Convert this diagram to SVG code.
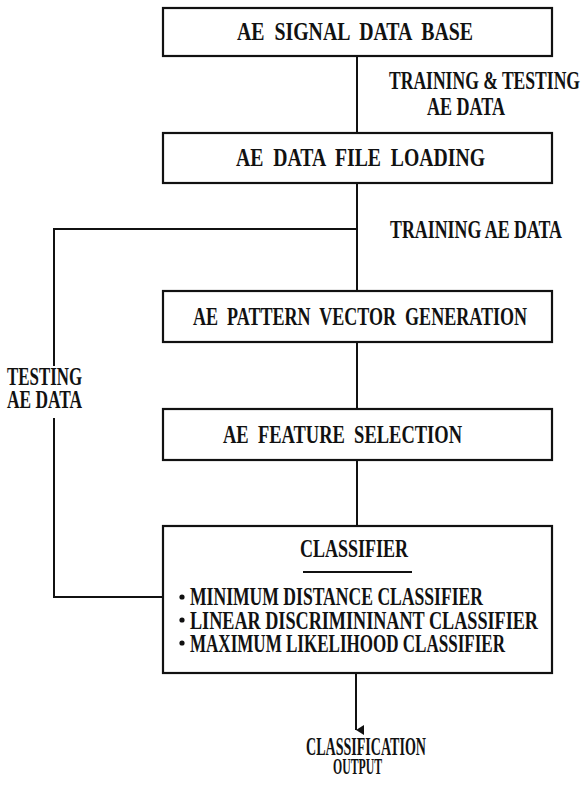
<svg xmlns="http://www.w3.org/2000/svg" width="583" height="785" viewBox="0 0 583 785">
<style>
.box{fill:#fff;stroke:#111;stroke-width:2.2}
.ln{fill:none;stroke:#111;stroke-width:2}
text{font-family:"Liberation Serif","Times New Roman",serif;font-weight:bold;font-size:26px;fill:#111}
.sm{font-size:24px}
</style>
<defs>
<marker id="arr" markerUnits="userSpaceOnUse" markerWidth="12" markerHeight="12" refX="6" refY="10" orient="auto-start-reverse" viewBox="0 0 12 12">
<path d="M1,2 L11,2 L6,10 Z" fill="#111"/>
</marker>
</defs>
<rect width="583" height="785" fill="#fff"/>
<g id="connectors">
<line class="ln" x1="357" y1="56" x2="357" y2="133"/>
<line class="ln" x1="357" y1="183" x2="357" y2="291"/>
<line class="ln" x1="357" y1="342" x2="357" y2="409"/>
<line class="ln" x1="357" y1="460" x2="357" y2="527"/>
<path class="ln" d="M357,229 H54 V366"/>
<path class="ln" d="M54,418 V597 H163"/>
<line class="ln" x1="356" y1="673" x2="356" y2="730" marker-end="url(#arr)"/>
</g>
<g id="label-train-test">
<text x="389" y="89" textLength="191" lengthAdjust="spacingAndGlyphs">TRAINING &amp; TESTING</text>
<text x="427" y="115" textLength="78" lengthAdjust="spacingAndGlyphs">AE DATA</text>
</g>
<g id="label-training">
<text x="390" y="238" textLength="172" lengthAdjust="spacingAndGlyphs">TRAINING AE DATA</text>
</g>
<g id="label-testing">
<text x="7" y="385" textLength="75" lengthAdjust="spacingAndGlyphs">TESTING</text>
<text x="7" y="408" textLength="75" lengthAdjust="spacingAndGlyphs">AE DATA</text>
</g>
<g id="n1">
<rect class="box" x="163" y="8" width="389" height="48"/>
<text x="237" y="40" textLength="236" lengthAdjust="spacingAndGlyphs" xml:space="preserve">AE  SIGNAL  DATA  BASE</text>
</g>
<g id="n2">
<rect class="box" x="163" y="133" width="389" height="50"/>
<text x="236" y="166" textLength="249" lengthAdjust="spacingAndGlyphs" xml:space="preserve">AE  DATA  FILE  LOADING</text>
</g>
<g id="n3">
<rect class="box" x="163" y="291" width="389" height="51"/>
<text x="193" y="325" textLength="334" lengthAdjust="spacingAndGlyphs" xml:space="preserve">AE  PATTERN  VECTOR  GENERATION</text>
</g>
<g id="n4">
<rect class="box" x="163" y="409" width="389" height="51"/>
<text x="223" y="443" textLength="239" lengthAdjust="spacingAndGlyphs" xml:space="preserve">AE  FEATURE  SELECTION</text>
</g>
<g id="n5">
<rect class="box" x="163" y="526" width="389" height="147"/>
<text x="300" y="557" textLength="108" lengthAdjust="spacingAndGlyphs">CLASSIFIER</text>
<line class="ln" x1="303" y1="572" x2="412" y2="572"/>
<circle cx="182" cy="597" r="2.6" fill="#111"/>
<circle cx="182" cy="620" r="2.6" fill="#111"/>
<circle cx="182" cy="643" r="2.6" fill="#111"/>
<text x="190" y="605" textLength="293" lengthAdjust="spacingAndGlyphs">MINIMUM DISTANCE CLASSIFIER</text>
<text x="190" y="629" textLength="348" lengthAdjust="spacingAndGlyphs">LINEAR DISCRIMININANT CLASSIFIER</text>
<text x="190" y="652" textLength="315" lengthAdjust="spacingAndGlyphs">MAXIMUM LIKELIHOOD CLASSIFIER</text>
</g>
<g id="output">
<text x="306" y="755" textLength="120" lengthAdjust="spacingAndGlyphs">CLASSIFICATION</text>
<text class="sm" x="333" y="774" textLength="49" lengthAdjust="spacingAndGlyphs">OUTPUT</text>
</g>
</svg>
